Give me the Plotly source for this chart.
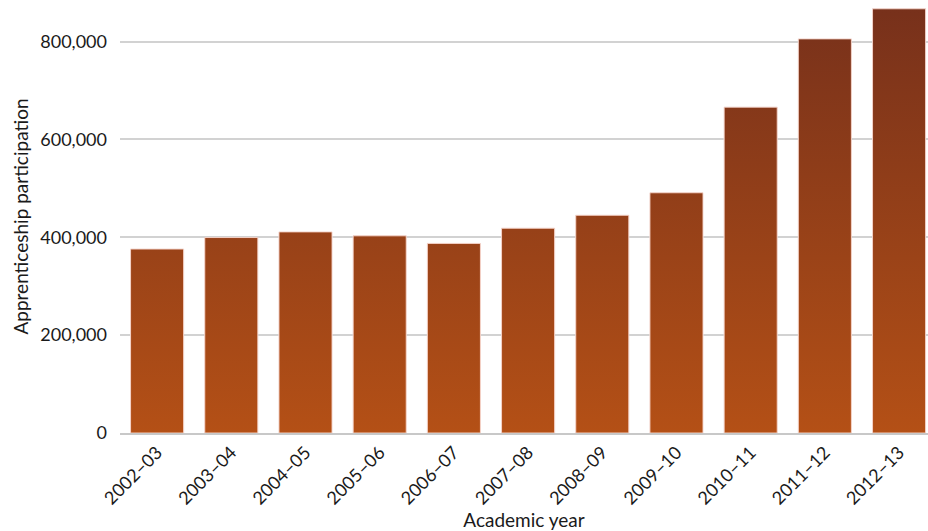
import plotly.graph_objects as go

years = ["2002–03", "2003–04", "2004–05", "2005–06", "2006–07", "2007–08",
         "2008–09", "2009–10", "2010–11", "2011–12", "2012–13"]
participation = [376000, 399500, 411000, 403000, 387500, 418500,
                 445000, 491000, 666000, 805500, 867000]
y_ticks = [0, 200000, 400000, 600000, 800000]
y_tick_labels = ["0", "200,000", "400,000", "600,000", "800,000"]

Y_MAX = 885000
BAR_W = 0.715
FONT = "Lato"

# Build bar outlines from the data (one polygon per bar, separated by None)
xs, ys = [], []
for i, v in enumerate(participation):
    x0, x1 = i - BAR_W / 2, i + BAR_W / 2
    xs += [x0, x0, x1, x1, x0, None]
    ys += [0, v, v, 0, 0, None]

fig = go.Figure()
fig.add_trace(go.Scatter(
    x=xs, y=ys, mode="lines", fill="toself",
    line=dict(color="rgba(250,215,205,0.9)", width=1),
    fillgradient=dict(type="vertical", start=0, stop=Y_MAX,
                      colorscale=[[0, "#b45016"], [1, "#76301b"]]),
    hoverinfo="skip", showlegend=False,
))
# invisible bars for hover
fig.add_trace(go.Bar(x=list(range(len(years))), y=participation, width=BAR_W,
                     marker=dict(color="rgba(0,0,0,0)"), showlegend=False,
                     customdata=years,
                     hovertemplate="%{customdata}: %{y:,}<extra></extra>"))

fig.update_layout(
    width=928, height=531,
    margin=dict(l=120, r=0, t=0, b=98),
    plot_bgcolor="white", paper_bgcolor="white",
    font=dict(family=FONT, size=18, color="#1a1a1a"),
    xaxis=dict(
        range=[-0.5, 10.39], automargin=False,
        tickmode="array", tickvals=list(range(len(years))), ticktext=years,
        tickangle=-45, showgrid=False, zeroline=False,
        showline=True, linecolor="#c8c8c8", linewidth=2,
        ticks="", ticklen=0,
        title=dict(text="Academic year", standoff=12, font=dict(size=19)),
    ),
    yaxis=dict(
        range=[0, Y_MAX], automargin=False,
        tickmode="array", tickvals=y_ticks, ticktext=y_tick_labels,
        showgrid=True, gridcolor="#d2d2d2", gridwidth=2,
        zeroline=False, showline=False, ticks="",
        ticklabelstandoff=12,
        title=dict(text="Apprenticeship participation", standoff=6, font=dict(size=19)),
    ),
    bargap=0.28,
)

fig.write_html("out.html")
